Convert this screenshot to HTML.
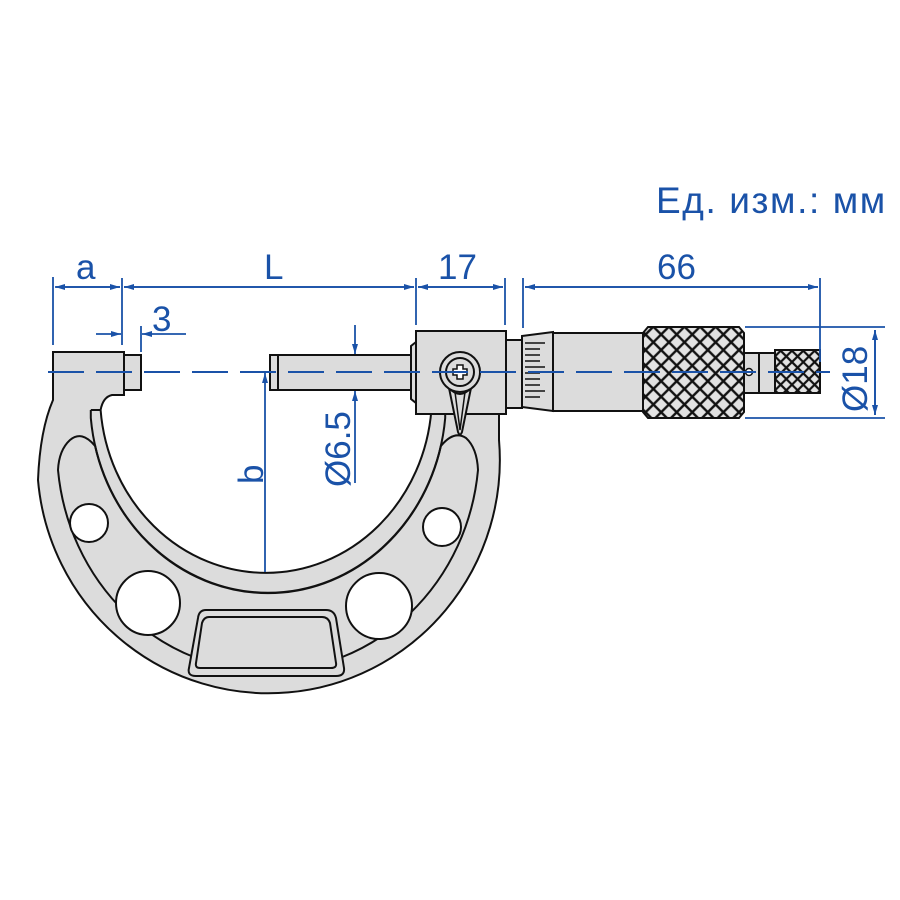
<!DOCTYPE html>
<html><head><meta charset="utf-8"><style>
html,body{margin:0;padding:0;background:#fff;}
svg{display:block;}
text{font-family:"Liberation Sans",Arial,sans-serif;fill:#1a52a8;}
</style></head><body>
<svg width="900" height="900" viewBox="0 0 900 900" xmlns="http://www.w3.org/2000/svg">
<defs>
<pattern id="kn" width="11" height="11" patternUnits="userSpaceOnUse" patternTransform="rotate(45)">
<rect width="11" height="11" fill="#111"/>
<rect x="1.2" y="1.2" width="8.6" height="8.6" fill="#e2e2e2"/>
</pattern>
<pattern id="kn2" width="8" height="8" patternUnits="userSpaceOnUse" patternTransform="rotate(45)">
<rect width="8" height="8" fill="#111"/>
<rect x="1.1" y="1.1" width="5.8" height="5.8" fill="#e2e2e2"/>
</pattern>
<marker id="ar" markerWidth="10" markerHeight="6" refX="10" refY="3" orient="auto" markerUnits="userSpaceOnUse">
<path d="M0,0 L10,3 L0,6 Z" fill="#1a52a8"/></marker>
</defs>
<text x="656" y="213" font-size="37" letter-spacing="1.6">Ед. изм.: мм</text>

<g stroke="#111" stroke-width="2" fill="#dcdcdc">
<path d="M53,352 L124,352 L124,395 L112,395 Q103,397 100.6,410 A166 178 0 0 0 431.4,410 L427,413 L499,413 L499,440 A230 232 0 0 1 38,480 Q40,430 53,400 Z"/>
<rect x="124" y="355" width="17" height="35"/>
<rect x="270" y="355" width="145" height="35"/>
<line x1="278" y1="355" x2="278" y2="390"/>
<path d="M416,342 L411,346 L411,399 L416,403 Z"/>
<rect x="416" y="331" width="90" height="83"/>
<rect x="506" y="340" width="16" height="68"/>
<path d="M522,336 L553,332 L553,411 L522,407 Z"/>
<rect x="553" y="333" width="91" height="78"/>
<path d="M648,327 L739,327 L744,333 L744,412 L739,418 L648,418 L643,412 L643,333 Z" fill="url(#kn)"/>
<rect x="744" y="353" width="15" height="40"/>
<rect x="759" y="353" width="16" height="40"/>
<rect x="775" y="350" width="45" height="43" fill="url(#kn2)"/>
<circle cx="749" cy="372" r="3.5" fill="#fff" stroke-width="1.5"/>
</g>
<g stroke="#111" stroke-width="1.5">
<line x1="525" y1="343" x2="545" y2="343"/><line x1="525" y1="349" x2="540" y2="349"/>
<line x1="525" y1="355" x2="540" y2="355"/><line x1="525" y1="361" x2="540" y2="361"/>
<line x1="525" y1="367" x2="545" y2="367"/><line x1="525" y1="373" x2="540" y2="373"/>
<line x1="525" y1="379" x2="540" y2="379"/><line x1="525" y1="385" x2="540" y2="385"/>
<line x1="525" y1="391" x2="545" y2="391"/><line x1="525" y1="397" x2="540" y2="397"/>
</g>
<g stroke="#111" stroke-width="2" fill="none">
<path d="M90.8,410 L101,410"/>
<path d="M90.8,410 L90.8,418 A178 193 0 0 0 445.2,418 L445.2,413"/>
<path d="M95.1,446 Q82,430 70,440 Q59,450 58,470 A211 223 0 0 0 478,470 Q477,448 466,438 Q454,430 440.9,446 A178 193 0 0 1 95.1,446 Z"/>
<path d="M206,610 L326,610 Q334,610 336,618 L344,668 Q345,676 336,676 L196,676 Q187,676 189,668 L198,618 Q199,610 206,610 Z" fill="#dcdcdc"/>
<path d="M209,617 L322,617 Q328,617 330,623 L336,663 Q337,668 331,668 L200,668 Q195,668 196,663 L202,623 Q204,617 209,617 Z"/>
</g>
<g stroke="#111" stroke-width="2" fill="#fff">
<circle cx="89" cy="523" r="19"/>
<circle cx="442" cy="527" r="19"/>
<circle cx="148" cy="603" r="32"/>
<circle cx="379" cy="606" r="33"/>
</g>
<g stroke="#111" stroke-width="2" fill="#dcdcdc">
<path d="M449,388 Q460,400 471,388 L462,432 Q460,437 458,432 Z"/>
<path d="M455,392 L460,430 L465,392" fill="none" stroke-width="1.5"/>
<circle cx="460" cy="372" r="20"/>
<circle cx="460" cy="372" r="14"/>
<path d="M457,365 h6 v4 h4 v6 h-4 v4 h-6 v-4 h-4 v-6 h4 z" fill="#fff" stroke-width="1.5"/>
</g>

<line x1="48" y1="372" x2="830" y2="372" stroke="#1a52a8" stroke-width="2" stroke-dasharray="36,12"/>

<g stroke="#1a52a8" stroke-width="1.8" fill="none">
<line x1="53" y1="277" x2="53" y2="345"/>
<line x1="122" y1="278" x2="122" y2="345"/>
<line x1="416" y1="278" x2="416" y2="325"/>
<line x1="505" y1="278" x2="505" y2="325"/>
<line x1="523" y1="278" x2="523" y2="328"/>
<line x1="820" y1="278" x2="820" y2="362"/>
<line x1="141" y1="326" x2="141" y2="352"/>
<line x1="56" y1="287" x2="120" y2="287" marker-end="url(#ar)"/>
<line x1="120" y1="287" x2="55" y2="287" marker-end="url(#ar)"/>
<line x1="124" y1="287" x2="414" y2="287" marker-end="url(#ar)"/>
<line x1="414" y1="287" x2="124" y2="287" marker-end="url(#ar)"/>
<line x1="418" y1="287" x2="503" y2="287" marker-end="url(#ar)"/>
<line x1="503" y1="287" x2="418" y2="287" marker-end="url(#ar)"/>
<line x1="525" y1="287" x2="818" y2="287" marker-end="url(#ar)"/>
<line x1="818" y1="287" x2="525" y2="287" marker-end="url(#ar)"/>
<line x1="96" y1="334" x2="121" y2="334" marker-end="url(#ar)"/>
<line x1="186" y1="334" x2="142" y2="334" marker-end="url(#ar)"/>
<line x1="355" y1="325" x2="355" y2="354" marker-end="url(#ar)"/>
<line x1="355" y1="483" x2="355" y2="391" marker-end="url(#ar)"/>
<line x1="265" y1="572" x2="265" y2="373" marker-end="url(#ar)"/>
<line x1="745" y1="327" x2="885" y2="327"/>
<line x1="745" y1="418" x2="885" y2="418"/>
<line x1="875" y1="330" x2="875" y2="415" marker-end="url(#ar)"/>
<line x1="875" y1="415" x2="875" y2="330" marker-end="url(#ar)"/>
</g>
<text x="76" y="279" font-size="35">a</text>
<text x="264" y="279" font-size="35">L</text>
<text x="438" y="279" font-size="35">17</text>
<text x="657" y="279" font-size="35">66</text>
<text x="152" y="331" font-size="35">3</text>
<text transform="translate(263,484) rotate(-90)" font-size="35">b</text>
<text transform="translate(350,487) rotate(-90)" font-size="35">Ø6.5</text>
<text transform="translate(867,412) rotate(-90)" font-size="35">Ø18</text>
</svg>
</body></html>
